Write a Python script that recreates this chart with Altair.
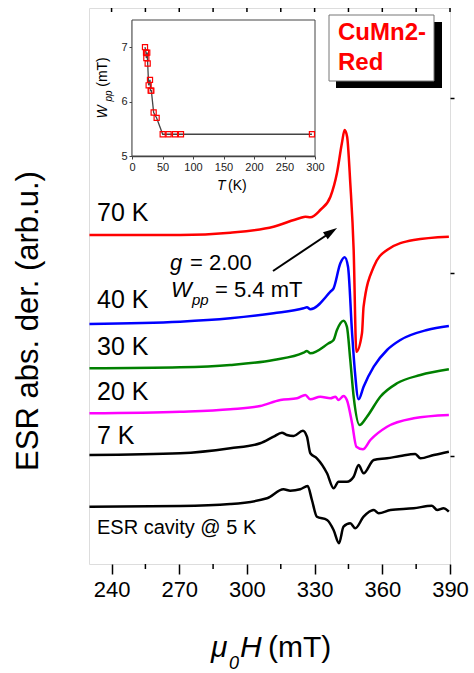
import altair as alt
import pandas as pd

FONT = "Liberation Sans, Arial, sans-serif"

# ---------------- main spectra (field in mT, signal in arb. units) -------------
H_70 = [230.2, 270.4, 292.6, 311.8, 323.6, 325.9, 328.1, 332.5, 337.0, 339.9, 342.1, 343.3,
        344.4, 345.8, 347.3, 348.5, 351.0, 351.7, 356.2, 362.1, 373.9, 389.5]
S_70 = [329, 329, 331.3, 337.3, 346, 347.3, 346.7, 354, 367.3, 391, 421, 434,
        427.3, 381, 314, 212.3, 231, 257.3, 297.3, 314, 324, 327.3]

H_40 = [230.2, 270.4, 292.6, 311.8, 325.1, 326.6, 328.1, 337.0, 338.4, 341.4, 343.3, 344.8,
        346.6, 347.8, 349.5, 351.7, 356.2, 362.1, 368.0, 379.8, 389.5]
S_40 = [240, 242.3, 245.7, 250.7, 255.7, 256.7, 254.7, 272.3, 275.7, 300.7, 306.7, 297.3,
        231, 194, 164.7, 177.3, 197.3, 214, 224, 234, 238]

H_30 = [230.2, 270.4, 292.6, 311.8, 325.1, 326.6, 328.1, 336.2, 338.4, 339.9, 342.8, 344.3,
        345.8, 347.3, 349.9, 353.2, 359.1, 366.5, 376.9, 389.5]
S_30 = [195.7, 196.7, 199, 204, 211.3, 213, 210.7, 220.7, 224, 234, 243.3, 237.3,
        204, 167.3, 139, 147.3, 167.3, 180.7, 189, 194.7]

H_20 = [230.2, 270.4, 292.6, 305.9, 314.8, 322.2, 325.9, 328.1, 332.5, 337.0, 339.2, 340.6,
        342.8, 344.3, 346.6, 348.5, 351.4, 354.7, 362.1, 373.9, 389.5]
S_20 = [150.7, 152.3, 154.7, 158, 164, 165.7, 169, 164.7, 167.3, 165.7, 167.3, 164,
        168, 164, 140.7, 117.3, 114.7, 124, 137.3, 145.7, 149]

H_7 = [230.2, 270.4, 292.6, 305.9, 311.8, 315.5, 317.7, 320.7, 324.8, 326.6, 328.1, 331.0,
       335.5, 338.4, 340.6, 344.3, 347.3, 349.5, 351.7, 356.2, 362.1, 368.0, 374.6, 376.9,
       382.8, 389.5]
S_7 = [109, 110.7, 115.7, 120.7, 127.3, 131.3, 129, 128, 133.3, 127.3, 110.7, 105.7,
       90.7, 75.7, 82.3, 82.3, 87.3, 99, 90.7, 104, 105.7, 108, 110, 105.7,
       109, 112.3]

H_5 = [230.2, 270.4, 292.6, 308.9, 316.2, 319.2, 323.6, 326.9, 328.8, 331.0, 335.5, 338.4,
       340.8, 342.8, 345.8, 348.0, 351.7, 356.2, 358.4, 363.6, 373.9, 382.0, 384.3, 387.2,
       389.5]
S_5 = [57.3, 58, 60, 65.7, 74.7, 73.3, 74.7, 78, 64, 47.3, 44, 34,
       20.7, 37.3, 40.7, 35.7, 47.3, 54, 50.7, 54, 55.7, 58.3, 54, 55.7,
       52.3]

series_names = ["70 K", "40 K", "30 K", "20 K", "7 K", "ESR cavity @ 5 K"]
series_colors = ["#ff0000", "#0000ff", "#008000", "#ff00ff", "#000000", "#000000"]
series_H = [H_70, H_40, H_30, H_20, H_7, H_5]
series_S = [S_70, S_40, S_30, S_20, S_7, S_5]

x_major = [240, 270, 300, 330, 360, 390]
x_minor = [255, 285, 315, 345, 375]
right_ticks = [108, 291, 466]

# ---------------- inset: linewidth vs temperature -------------------------------
T_K = [21.3, 23.0, 23.5, 25.0, 25.7, 27.3, 29.5, 30.6, 31.7, 35.5, 40.4, 50.3, 60.0, 70.5, 80.3, 295.0]
Wpp = [7.0, 6.9, 6.8, 6.9, 6.7, 6.3, 6.4, 6.2, 6.2, 5.8, 5.7, 5.4, 5.4, 5.4, 5.4, 5.4]

rows = []
for name, hs, ss in zip(series_names, series_H, series_S):
    for h, s in zip(hs, ss):
        rows.append({"series": name, "H": h, "S": s})
spec = pd.DataFrame(rows)
inset_df = pd.DataFrame({"T": T_K, "W": Wpp})

W, HGT = 361, 556

xs = alt.Scale(domain=[230, 390], nice=False)
ys = alt.Scale(domain=[0, 556], nice=False, zero=False)

lines = alt.Chart(spec).mark_line(strokeWidth=2.5, interpolate="monotone").encode(
    x=alt.X("H:Q", scale=xs, axis=alt.Axis(values=x_major, tickSize=10, tickWidth=1.5,
                                          tickColor="black", domain=False, grid=False,
                                          labelFontSize=22, labelFont=FONT, labelColor="black",
                                          labelPadding=5, title=None, labelFlush=False)),
    y=alt.Y("S:Q", scale=ys, axis=alt.Axis(orient="right", values=right_ticks, labels=False,
                                          tickSize=4, tickWidth=1.5, tickColor="black",
                                          domain=False, grid=False, title=None)),
    color=alt.Color("series:N", scale=alt.Scale(domain=series_names, range=series_colors),
                    legend=None),
    detail="series:N",
)

minor_df = pd.DataFrame({"H": x_minor})
minor = alt.Chart(minor_df).mark_rule(color="black", strokeWidth=1.5).encode(
    x=alt.X("H:Q", scale=xs), y=alt.value(HGT), y2=alt.value(HGT + 5))
top_df = pd.DataFrame({"H": x_major + x_minor})
top_ticks = alt.Chart(top_df).mark_rule(color="black", strokeWidth=1.5).encode(
    x=alt.X("H:Q", scale=xs), y=alt.value(0), y2=alt.value(4))

main = alt.layer(lines, minor, top_ticks)

# inset
ixs = alt.Scale(domain=[0, 300], range=[43, 226], nice=False)
iys = alt.Scale(domain=[5, 7.5], range=[148, 12], nice=False, zero=False)
frame_df = pd.DataFrame({"T0": [0], "T1": [300], "W0": [5], "W1": [7.5]})
iframe = alt.Chart(frame_df).mark_rect(fill="white", stroke="#444", strokeWidth=1).encode(
    x=alt.X("T0:Q", scale=ixs,
            axis=alt.Axis(orient="bottom", offset=-408, values=[0, 50, 100, 150, 200, 250, 300],
                          tickSize=3, tickColor="#444", domainColor="#444", domainWidth=1.5,
                          labelFontSize=11, labelFont=FONT, labelColor="#222", labelPadding=2,
                          grid=False, title=None, labelFlush=False, format="d")),
    x2="T1:Q",
    y=alt.Y("W0:Q", scale=iys,
            axis=alt.Axis(orient="left", offset=-43, values=[5, 6, 7], tickSize=3,
                          tickColor="#444", domainColor="#444", domainWidth=1.5,
                          labelFontSize=11, labelFont=FONT, labelColor="#222", labelPadding=2,
                          grid=False, title=None, format="d")),
    y2="W1:Q",
)
iline = alt.Chart(inset_df).mark_line(color="#444", strokeWidth=1.3).encode(
    x=alt.X("T:Q", scale=ixs), y=alt.Y("W:Q", scale=iys), order="T:Q")
ipts = alt.Chart(inset_df).mark_point(shape="square", filled=False, color="#ff0000",
                                      size=26, strokeWidth=1.2, opacity=1).encode(
    x=alt.X("T:Q", scale=ixs), y=alt.Y("W:Q", scale=iys))
inset = alt.layer(iframe, iline, ipts)


def txt(s, x, y, size, style="normal", weight="normal", color="black", angle=0,
        align="left", baseline="alphabetic"):
    return alt.Chart(pd.DataFrame({"t": [s]})).mark_text(
        font=FONT, fontSize=size, fontStyle=style, fontWeight=weight, color=color,
        angle=angle, align=align, baseline=baseline).encode(
        text="t:N", x=alt.value(x), y=alt.value(y))


one = pd.DataFrame({"a": [0]})
texts = []
# curve labels
label_y = [205, 292, 339, 384, 428, 520]
label_size = [25, 25, 25, 25, 25, 20]
for name, ly, sz in zip(series_names, label_y, label_size):
    texts.append(txt(name, 8, ly, sz, baseline="middle"))

# axis titles
texts.append(txt("ESR abs. der. (arb.u.)", -60, 313, 31, angle=270, align="center",
                 baseline="middle"))
texts.append(txt("\u03bc", 122, 649, 30, style="italic"))
texts.append(txt("0", 140, 661, 18, style="italic"))
texts.append(txt("H", 151, 649, 30, style="italic"))
texts.append(txt("(mT)", 179, 649, 30))

# annotation
texts.append(txt("g", 81, 262, 22, style="italic"))
texts.append(txt("= 2.00", 101, 262, 22))
texts.append(txt("W", 82, 289, 22, style="italic"))
texts.append(txt("pp", 103, 297, 15, style="italic"))
texts.append(txt("= 5.4 mT", 126, 289, 22))
arrow = alt.Chart(one).mark_rule(color="black", strokeWidth=2).encode(
    x=alt.value(184), y=alt.value(263), x2=alt.value(243), y2=alt.value(223.5))
head = alt.Chart(one).mark_point(shape="M0,-1L0.6,1L-0.6,1Z", filled=True, color="black",
                                 size=200, angle=56, opacity=1).encode(
    x=alt.value(242.2), y=alt.value(223.9))

# inset titles
texts.append(txt("T", 128, 182, 14, style="italic"))
texts.append(txt("(K)", 139, 182, 14))
texts.append(txt("W", 14, 104, 14, style="italic", angle=270, align="center", baseline="middle"))
texts.append(txt("pp", 20, 88, 10, style="italic", angle=270, align="center", baseline="middle"))
texts.append(txt("(mT)", 14, 64, 14, angle=270, align="center", baseline="middle"))

# sample label box
shadow = alt.Chart(one).mark_rect(fill="black").encode(
    x=alt.value(247), x2=alt.value(353), y=alt.value(14), y2=alt.value(80))
box = alt.Chart(one).mark_rect(fill="white", stroke="#777", strokeWidth=1).encode(
    x=alt.value(240), x2=alt.value(345), y=alt.value(7), y2=alt.value(73))
texts.append(txt("CuMn2-", 249, 25, 24, weight="bold", color="#ff0000", baseline="middle"))
texts.append(txt("Red", 249, 55, 24, weight="bold", color="#ff0000", baseline="middle"))

chart = alt.layer(main, inset, arrow, head, shadow, box, *texts).resolve_scale(
    x="independent", y="independent"
).properties(
    width=W, height=HGT,
    autosize=alt.AutoSizeParams(type="none"),
    padding={"left": 89, "top": 8, "right": 24, "bottom": 109},
).configure_view(stroke="black", strokeWidth=2).configure(background="white")

chart.save("out.html", embed_options={"renderer": "svg", "actions": False})
